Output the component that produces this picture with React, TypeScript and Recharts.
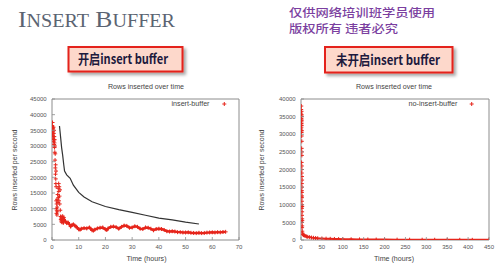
import React from 'react';
import { ScatterChart, Scatter, XAxis, YAxis, ReferenceArea } from 'recharts';

// ---------- data ----------
const leftXTicks = [0, 10, 20, 30, 40, 50, 60, 70];
const leftYTicks = [0, 5000, 10000, 15000, 20000, 25000, 30000, 35000, 40000, 45000];
const rightXTicks = [0, 50, 100, 150, 200, 250, 300, 350, 400, 450];
const rightYTicks = [0, 5000, 10000, 15000, 20000, 25000, 30000, 35000, 40000];

// insert-buffer: early scattered cloud (hours, rows/s)
const leftCloudHours = [0.05, 0.1, 0.15, 0.2, 0.25, 0.3, 0.35, 0.4, 0.45, 0.5, 0.55, 0.6, 0.65, 0.7, 0.75, 0.8, 0.85, 0.9, 0.95, 1.0, 1.05, 1.1, 1.15, 1.2, 1.25, 1.3, 1.35, 1.4, 1.45, 1.5, 1.55, 1.6, 1.65, 1.7, 1.75, 1.8, 1.85, 1.9, 1.95, 2.0, 2.1, 2.2, 2.3, 2.4, 2.5, 2.55, 2.6, 2.7, 2.8, 2.9, 3.0, 3.1, 3.2, 3.3, 3.4, 3.5, 3.6, 3.7, 3.8, 3.9, 4.0, 4.1, 4.2, 4.3, 4.4];
const leftCloudRows = [35000, 36500, 34000, 37500, 33500, 36000, 32500, 35500, 34500, 33000, 36000, 31500, 34000, 32000, 35000, 30500, 33000, 31000, 29500, 32000, 28000, 30000, 25500, 27500, 23000, 21000, 24000, 19500, 18000, 22000, 17000, 12500, 10000, 8500, 11500, 9500, 8000, 13000, 10500, 9000, 14500, 12000, 16500, 13500, 18000, 15500, 12500, 17000, 14000, 11500, 16000, 9500, 7500, 6500, 7000, 5800, 6300, 7400, 5600, 6800, 7600, 6000, 6900, 5500, 7200];

// insert-buffer: steady band
const leftBandHours = [4.5, 5, 5.5, 6, 6.5, 7, 7.5, 8, 8.5, 9, 9.5, 10, 10.5, 11, 12, 13, 14, 14.5, 15, 15.5, 16, 17, 18, 19, 20, 20.5, 21, 22, 23, 24, 25, 26, 27, 28, 29, 30, 31, 32, 33, 34, 35, 36, 37, 38, 39, 40, 41, 42, 43, 44, 45, 46, 47, 48, 49, 50, 51, 52, 53, 54, 55, 56, 57, 58, 59, 60, 61, 62, 63, 64, 65];
const leftBandRows = [6500, 6000, 5400, 5600, 5000, 4300, 4800, 5000, 4600, 4300, 3900, 3400, 3300, 3600, 3800, 3700, 4000, 3600, 3100, 3000, 3300, 3700, 3900, 4000, 3400, 3200, 3700, 4200, 4300, 4100, 3600, 4200, 4600, 4500, 3900, 4000, 4400, 4200, 3600, 3500, 4000, 3900, 3600, 3100, 3500, 3600, 3500, 3200, 2800, 2700, 2800, 2700, 2500, 2500, 2400, 2400, 2450, 2300, 2250, 2200, 2300, 2200, 2250, 2350, 2400, 2450, 2400, 2500, 2450, 2550, 2600];

// black reference curve
const refHours = [2.8, 3.2, 3.6, 4.0, 4.4, 4.7, 5.5, 6.8, 8, 10, 12, 15, 20, 25, 30, 35, 40, 45, 50, 55];
const refRows = [36400, 33000, 29500, 27000, 24000, 22000, 20800, 19700, 17500, 15200, 13700, 12200, 10700, 9700, 8800, 7900, 7000, 6400, 5700, 5100];

// no-insert-buffer: early cloud
const rightCloudHours = [0.2, 0.4, 0.5, 0.6, 0.8, 0.9, 1.0, 1.1, 1.2, 1.3, 1.4, 1.5, 1.6, 1.7, 1.8, 0.7, 0.3, 1.9, 2.0, 2.1, 1.5, 2.2, 1.8, 2.3, 2.0, 2.4, 2.1, 2.5, 2.2, 2.6, 2.3, 2.7, 2.4, 2.8, 2.5, 2.9, 2.6, 3.0, 3.2, 1.6, 2.0, 2.6, 1.9, 2.3, 2.8, 3.0, 1.0, 1.3, 0.5, 1.7];
const rightCloudRows = [36000, 34000, 37000, 33000, 35500, 32000, 34500, 31000, 36500, 33500, 30500, 35000, 32500, 29500, 34000, 38000, 31500, 28000, 25000, 24000, 22000, 20000, 19000, 18000, 16000, 15000, 13500, 12500, 11000, 10000, 9000, 8000, 7000, 6000, 5000, 4000, 3500, 2500, 2000, 26000, 21000, 17000, 14000, 12000, 9500, 5500, 33000, 35500, 35000, 31000];

// no-insert-buffer: long tail
const rightTailHours = [4, 6, 8, 10, 13, 16, 20, 25, 30, 35, 40, 50, 60, 70, 80, 90, 100, 120, 140, 160, 180, 200, 230, 260, 290, 320, 350, 380, 410, 450];
const rightTailRows = [1600, 1400, 1300, 1150, 1000, 900, 820, 700, 620, 560, 500, 430, 380, 330, 290, 260, 230, 200, 170, 150, 130, 120, 100, 90, 80, 70, 60, 55, 50, 45];

const zip = (xs: number[], ys: number[]) => xs.map((x, i) => ({ x, y: ys[i] }));

const leftCloud = zip(leftCloudHours, leftCloudRows);
const leftBand = zip(leftBandHours, leftBandRows);
const refCurve = zip(refHours, refRows);
const rightCloud = zip(rightCloudHours, rightCloudRows);
const rightTail = zip(rightTailHours, rightTailRows);

// ---------- styles ----------
const RED = '#e6261c';
const FRAME = '#8c8c8c';
const SANS = '"Liberation Sans", Arial, sans-serif';
const tickFont = { fontSize: 6, fill: '#555', fontFamily: SANS };

const Cross = (props: any) => {
  const { cx, cy } = props;
  if (cx == null || cy == null) return <g />;
  return <path d={`M${cx - 2},${cy}h4M${cx},${cy - 2}v4`} stroke={RED} strokeWidth={1} fill="none" />;
};
const NoShape = () => <g />;

const BottomTick = (p: any) => (
  <g>
    <line x1={p.x} x2={p.x} y1={p.y} y2={p.y - 3} stroke={FRAME} strokeWidth={0.8} />
    <text x={p.x} y={p.y + 9} textAnchor="middle" {...tickFont}>{p.payload.value}</text>
  </g>
);
const LeftTick = (p: any) => (
  <g>
    <line x1={p.x} x2={p.x + 3} y1={p.y} y2={p.y} stroke={FRAME} strokeWidth={0.8} />
    <text x={p.x - 5.3} y={p.y + 2.2} textAnchor="end" {...tickFont}>{p.payload.value}</text>
  </g>
);
const TopTick = (p: any) => (
  <line x1={p.x} x2={p.x} y1={p.y} y2={p.y + 3} stroke={FRAME} strokeWidth={0.8} />
);
const RightTick = (p: any) => (
  <line x1={p.x} x2={p.x - 3} y1={p.y} y2={p.y} stroke={FRAME} strokeWidth={0.8} />
);

type PanelProps = {
  xMax: number;
  yMax: number;
  xTicks: number[];
  yTicks: number[];
  yAxisWidth: number;
  children: React.ReactNode;
};

const Panel = ({ xMax, yMax, xTicks, yTicks, yAxisWidth, children }: PanelProps) => (
  <ScatterChart width={250} height={188} margin={{ top: 19, right: 11, bottom: 0, left: 0 }}>
    <XAxis type="number" dataKey="x" domain={[0, xMax]} ticks={xTicks} interval={0} height={28}
      tickSize={0} tickMargin={0} axisLine={false} tickLine={false} tick={BottomTick} allowDataOverflow />
    <YAxis type="number" dataKey="y" domain={[0, yMax]} ticks={yTicks} interval={0} width={yAxisWidth}
      tickSize={0} tickMargin={0} axisLine={false} tickLine={false} tick={LeftTick} allowDataOverflow />
    <XAxis xAxisId="top" orientation="top" type="number" dataKey="x" domain={[0, xMax]} ticks={xTicks} interval={0}
      height={0} tickSize={0} tickMargin={0} axisLine={false} tickLine={false} tick={TopTick} allowDataOverflow />
    <YAxis yAxisId="right" orientation="right" type="number" dataKey="y" domain={[0, yMax]} ticks={yTicks} interval={0}
      width={0} tickSize={0} tickMargin={0} axisLine={false} tickLine={false} tick={RightTick} allowDataOverflow />
    <ReferenceArea x1={0} x2={xMax} y1={0} y2={yMax} fill="none" fillOpacity={0} stroke={FRAME} strokeWidth={1} strokeOpacity={1} />
    {children}
  </ScatterChart>
);

export default function App() {
  return (
    <div style={{ position: 'absolute', left: 0, top: 0, width: 500, height: 268, background: '#ffffff', overflow: 'hidden' }}>
      <svg width={500} height={268} style={{ position: 'absolute', left: 0, top: 0 }}>
        <defs>
          <filter id="sh" x="-20%" y="-30%" width="140%" height="170%">
            <feDropShadow dx="2.5" dy="2.5" stdDeviation="1.5" floodColor="#000" floodOpacity="0.35" />
          </filter>
        </defs>
        {/* slide title */}
        <text x={18} y={27} fill="#5b6472" fontFamily='"Liberation Serif", "DejaVu Serif", serif' textLength={157} lengthAdjust="spacingAndGlyphs">
          <tspan fontSize={23}>I</tspan><tspan fontSize={18}>NSERT</tspan><tspan fontSize={23}> B</tspan><tspan fontSize={18}>UFFER</tspan>
        </text>
        {/* watermark */}
        <g fill="#7b3fa0" fontFamily='"Noto Sans CJK SC", sans-serif' fontSize={11} fontWeight={500}>
          <text x={289} y={16.5} textLength={146} lengthAdjust="spacingAndGlyphs">仅供网络培训班学员使用</text>
          <text x={289} y={32.5} textLength={109} lengthAdjust="spacingAndGlyphs">版权所有 违者必究</text>
        </g>
        {/* label boxes */}
        <rect x={68.5} y={47} width={114} height={24.5} fill="#fdd8cb" stroke="#e4201b" strokeWidth={2} filter="url(#sh)" />
        <text x={78} y={64} fill="#1d1a3d" fontWeight="bold" fontSize={13.5} fontFamily='"Noto Sans CJK SC", "Liberation Sans", sans-serif' textLength={90} lengthAdjust="spacingAndGlyphs">开启insert buffer</text>
        <rect x={325} y={47} width={127.5} height={25.5} fill="#fdd8cb" stroke="#e4201b" strokeWidth={2} filter="url(#sh)" />
        <text x={336} y={64.5} fill="#1d1a3d" fontWeight="bold" fontSize={13.5} fontFamily='"Noto Sans CJK SC", "Liberation Sans", sans-serif' textLength={104} lengthAdjust="spacingAndGlyphs">未开启insert buffer</text>
        {/* chart titles */}
        <g fill="#444" fontFamily={SANS} fontSize={6.5}>
          <text x={146} y={89} textAnchor="middle" textLength={76} lengthAdjust="spacingAndGlyphs">Rows inserted over time</text>
          <text x={394} y={89} textAnchor="middle" textLength={76} lengthAdjust="spacingAndGlyphs">Rows inserted over time</text>
          <text x={146.5} y={261} textAnchor="middle" fontSize={7} textLength={40} lengthAdjust="spacingAndGlyphs">Time (hours)</text>
          <text x={394} y={261} textAnchor="middle" fontSize={7} textLength={40} lengthAdjust="spacingAndGlyphs">Time (hours)</text>
          <text transform="translate(16.5,170) rotate(-90)" textAnchor="middle" textLength={81} lengthAdjust="spacingAndGlyphs">Rows inserted per second</text>
          <text transform="translate(264,170) rotate(-90)" textAnchor="middle" textLength={81} lengthAdjust="spacingAndGlyphs">Rows inserted per second</text>
          <text x={209.5} y={106.2} textAnchor="end" textLength={38} lengthAdjust="spacingAndGlyphs">insert-buffer</text>
          <text x={457.5} y={106.2} textAnchor="end" textLength={49} lengthAdjust="spacingAndGlyphs">no-insert-buffer</text>
        </g>
        <path d="M222.3,104h4M224.3,102v4" stroke={RED} strokeWidth={1} />
        <path d="M469.7,104h4M471.7,102v4" stroke={RED} strokeWidth={1} />
      </svg>

      <div style={{ position: 'absolute', left: 0, top: 80, width: 250, height: 188 }}>
        <Panel xMax={70} yMax={45000} xTicks={leftXTicks} yTicks={leftYTicks} yAxisWidth={52}>
          <Scatter data={refCurve} shape={NoShape} line={{ stroke: '#333333', strokeWidth: 1.2 }} isAnimationActive={false} legendType="none" />
          <Scatter data={leftCloud} shape={Cross} isAnimationActive={false} legendType="none" />
          <Scatter data={leftBand} shape={Cross} line={{ stroke: RED, strokeWidth: 2.4 }} isAnimationActive={false} name="insert-buffer" />
        </Panel>
      </div>
      <div style={{ position: 'absolute', left: 250, top: 80, width: 250, height: 188 }}>
        <Panel xMax={450} yMax={40000} xTicks={rightXTicks} yTicks={rightYTicks} yAxisWidth={51}>
          <Scatter data={rightCloud} shape={Cross} isAnimationActive={false} legendType="none" />
          <Scatter data={rightTail} shape={Cross} line={{ stroke: RED, strokeWidth: 2 }} isAnimationActive={false} name="no-insert-buffer" />
        </Panel>
      </div>
    </div>
  );
}
